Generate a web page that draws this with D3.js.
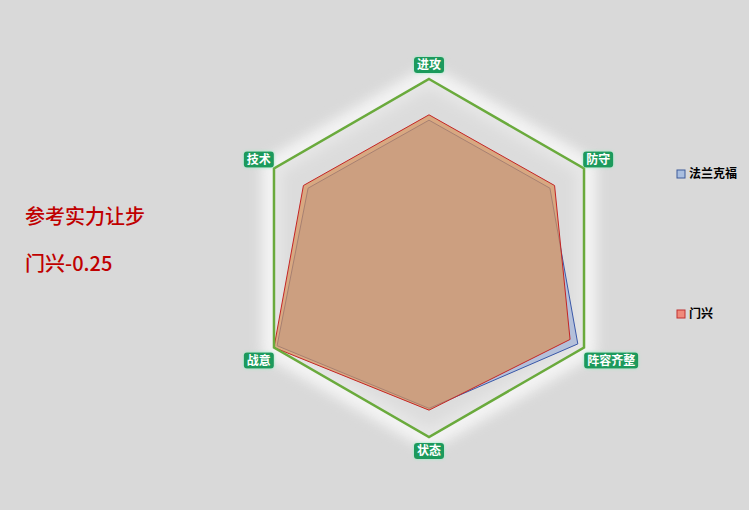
<!DOCTYPE html>
<html>
<head>
<meta charset="utf-8">
<script src="https://cdn.jsdelivr.net/npm/d3@7"></script>
<style>
  html, body { margin: 0; padding: 0; background: #d9d9d9; }
  svg { display: block; font-family: "Noto Sans CJK SC", "Noto Sans", sans-serif; }
</style>
</head>
<body>
<div id="chart"></div>
<script>
'use strict';

// radar axes, clockwise from top
const indicators = ["进攻", "防守", "阵容齐整", "状态", "战意", "技术"];
const seriesNames = ["法兰克福", "门兴"];
const frankfurtValues = [77, 78, 96, 84, 98, 78];
const gladbachValues = [80, 81, 91, 85, 100, 81];
const maxValue = 100;

const width = 749, height = 510;
const cx = 429, cy = 258, radius = 179;

const svg = d3.select("#chart").append("svg")
  .attr("width", width)
  .attr("height", height);

const defs = svg.append("defs");
defs.append("filter").attr("id", "glow")
  .attr("x", "-20%").attr("y", "-20%").attr("width", "140%").attr("height", "140%")
  .append("feGaussianBlur").attr("stdDeviation", 7);

const lblGlow = defs.append("filter").attr("id", "lblGlow")
  .attr("x", "-30%").attr("y", "-50%").attr("width", "160%").attr("height", "200%");
lblGlow.append("feDropShadow")
  .attr("dx", 0).attr("dy", 0).attr("stdDeviation", 1.6)
  .attr("flood-color", "#8cf0c0").attr("flood-opacity", 0.9);

svg.append("rect").attr("width", width).attr("height", height).attr("fill", "#d9d9d9");

const r = d3.scaleLinear().domain([0, maxValue]).range([0, radius]);
const angle = d3.scaleLinear().domain([0, indicators.length]).range([0, 2 * Math.PI]);

const g = svg.append("g").attr("transform", "translate(" + cx + "," + cy + ")");

const radial = d3.lineRadial()
  .angle(function(d, i) { return angle(i); })
  .radius(function(d) { return r(d); })
  .curve(d3.curveLinearClosed);

const full = indicators.map(() => maxValue);

// white glow along the outer ring
g.append("path")
  .attr("d", radial(full))
  .attr("fill", "none")
  .attr("stroke", "#f6f6f6")
  .attr("stroke-width", 22)
  .attr("filter", "url(#glow)");

g.append("path")
  .attr("d", radial(full))
  .attr("fill", "#dcdcdc")
  .attr("stroke", "none");

g.append("path")
  .attr("d", radial(full))
  .attr("fill", "none")
  .attr("stroke", "#f2f2f2")
  .attr("stroke-width", 14)
  .attr("stroke-opacity", 0.6)
  .attr("filter", "url(#glow)");

// series polygons
g.append("path")
  .attr("d", radial(frankfurtValues))
  .attr("fill", "#b4c0da")
  .attr("stroke", "#3a58a8")
  .attr("stroke-width", 1);

g.append("path")
  .attr("d", radial(gladbachValues))
  .attr("fill", "#d6915a")
  .attr("fill-opacity", 0.7)
  .attr("stroke", "#c42525")
  .attr("stroke-width", 1);

// outer ring
g.append("path")
  .attr("d", radial(full))
  .attr("fill", "none")
  .attr("stroke", "#6aaa3c")
  .attr("stroke-width", 2.5)
  .attr("stroke-linejoin", "miter");

// axis labels
const labelR = radius + 14;
const labelG = g.selectAll(".lbl")
  .data(indicators)
  .enter()
  .append("g")
  .attr("class", "lbl")
  .attr("transform", function(d, i) {
    const a = angle(i);
    let x = Math.sin(a) * labelR, y = -Math.cos(a) * labelR;
    if (i === 1 || i === 5) y -= 2;
    if (i === 2 || i === 4) y += 6;
    if (i === 1) x += 2;
    if (i === 2) x += 15;
    if (i === 4) x -= 3;
    if (i === 5) x -= 3;
    return "translate(" + x + "," + y + ")";
  });

labelG.append("rect")
  .attr("x", function(d) { return -d.length * 6 - 3; })
  .attr("y", -8)
  .attr("width", function(d) { return d.length * 12 + 6; })
  .attr("height", 16)
  .attr("rx", 3)
  .attr("fill", "#1e9a5c")
  .attr("filter", "url(#lblGlow)");

labelG.append("text")
  .attr("text-anchor", "middle")
  .attr("dy", "0.36em")
  .attr("fill", "#ffffff")
  .style("font-size", "12px")
  .style("font-weight", "bold")
  .text(function(d) { return d; });

// legend
const legendY = [174, 314];
const legendFill = ["#a9bedf", "#f08a7a"];
const legendStroke = ["#3d5a9a", "#c03030"];
const legend = svg.append("g").selectAll("g")
  .data(seriesNames)
  .enter()
  .append("g")
  .attr("transform", function(d, i) { return "translate(677," + legendY[i] + ")"; });

legend.append("rect")
  .attr("x", 0).attr("y", -4)
  .attr("width", 8).attr("height", 8)
  .attr("fill", function(d, i) { return legendFill[i]; })
  .attr("stroke", function(d, i) { return legendStroke[i]; })
  .attr("stroke-width", 1);

legend.append("text")
  .attr("x", 12)
  .attr("dy", "0.36em")
  .style("font-size", "12px")
  .style("font-weight", "bold")
  .attr("fill", "#000")
  .text(function(d) { return d; });

// handicap note
svg.append("text")
  .attr("x", 25).attr("y", 224)
  .attr("fill", "#c00000")
  .style("font-size", "20px")
  .style("font-weight", 500)
  .text("参考实力让步");

svg.append("text")
  .attr("x", 25).attr("y", 271)
  .attr("fill", "#c00000")
  .style("font-size", "20px")
  .style("font-weight", 500)
  .text("门兴-0.25");
</script>
</body>
</html>
